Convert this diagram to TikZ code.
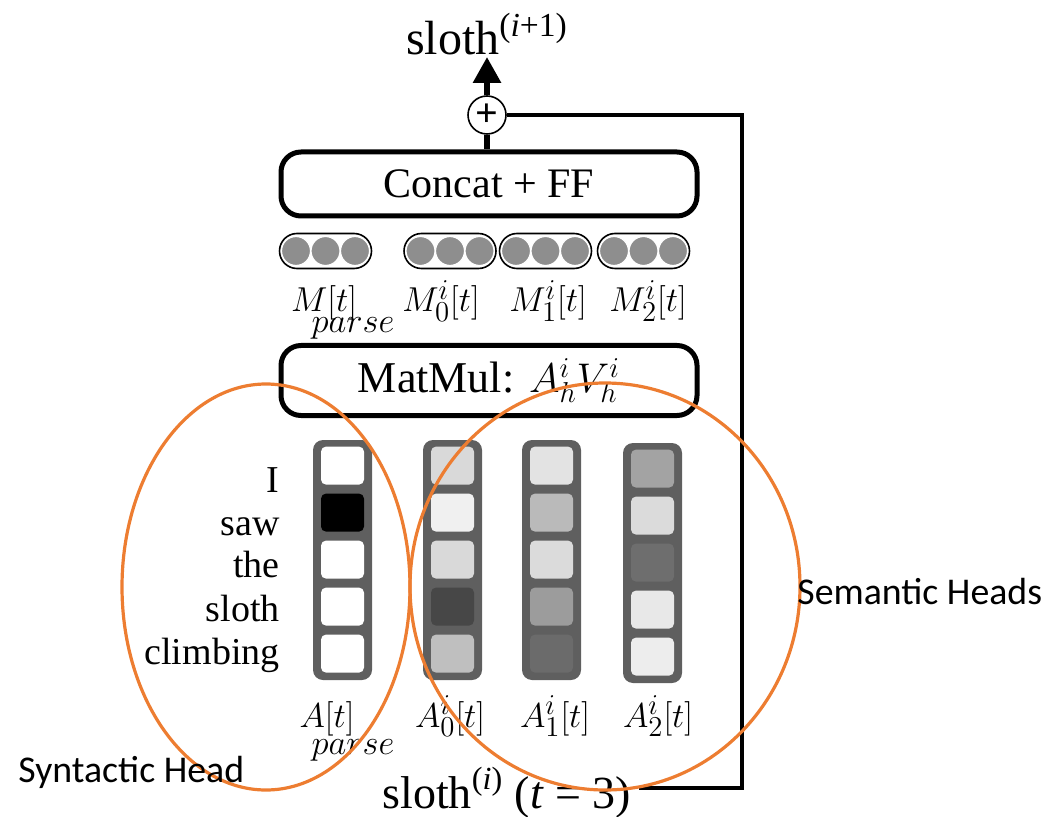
\documentclass[tikz,border=0pt]{standalone}
\usepackage[no-math]{fontspec}
\setmainfont{Liberation Serif}
\newfontfamily\calibfont{Carlito}
\usepackage{tikz}
\usetikzlibrary{positioning,arrows.meta,calc}
\definecolor{headorange}{HTML}{ED7D31}
\definecolor{colgray}{HTML}{5F5F5F}
\definecolor{dotgray}{HTML}{8E8E8E}

\tikzset{
  blockbox/.style={draw, line width=2.5pt, rounded corners=10pt, minimum width=208pt, inner sep=0pt},
  vecbox/.style={draw, line width=0.8pt, rounded corners=8.75pt, minimum width=46pt, minimum height=17.5pt, inner sep=0pt},
  attcol/.style={fill=colgray, rounded corners=5pt, minimum width=29.5pt, minimum height=120pt, inner sep=0pt},
  word/.style={anchor=base east, inner sep=0pt, font=\fontsize{19}{19}\selectfont},
  lbl/.style={anchor=base, inner sep=0pt, font=\fontsize{19}{19}\selectfont},
  sublbl/.style={anchor=base, inner sep=0pt, font=\fontsize{17.5}{18}\selectfont},
  headarea/.style={draw=headorange, line width=1.6pt},
  headlbl/.style={anchor=base west, inner sep=0pt, font=\calibfont\fontsize{18.9}{20}\selectfont},
}

\begin{document}
\begin{tikzpicture}[x=0.5pt, y=-0.5pt, >={Triangle[length=13pt,width=13.5pt]}]
    \useasboundingbox (0,0) rectangle (1047,817);

    % Output and residual sum
    \node[anchor=south, inner sep=1pt, font=\fontsize{24}{24}\selectfont] (out) at (487,57) {sloth\textsuperscript{(\textit{i}+1)}};
    \node[circle, draw, line width=0.8pt, minimum size=19pt, inner sep=0pt, font=\bfseries\fontsize{20}{20}\selectfont] (plus) at (487,115) {+};

    % Concat + FF
    \node[blockbox, minimum height=32pt, font=\fontsize{21}{21}\selectfont] (concat) at (489,184) {Concat + FF};
    \draw[line width=3pt] (plus) -- (plus |- concat.north);
    \draw[->, line width=3pt] (plus) -- (out);

    % Head outputs
    \node[vecbox] (mp) at (325.5,251) {};
    \node[vecbox] (m0) at (450,251) {};
    \node[vecbox] (m1) at (545.5,251) {};
    \node[vecbox] (m2) at (643.5,251) {};
    \foreach \m in {mp,m0,m1,m2}
        \foreach \dx in {-29.5,0,29.5}
            \filldraw[fill=dotgray, draw=white, line width=0.6pt] ($(\m)+(\dx,0)$) circle (14.5);

    \node[lbl] (mpl) at (324,312) {$M[t]$};
    \node[sublbl] (mps) at (353,333) {$parse$};
    \node[lbl] (m0l) at (441,312) {$M^i_0[t]$};
    \node[lbl] (m1l) at (548,312) {$M^i_1[t]$};
    \node[lbl] (m2l) at (648,312) {$M^i_2[t]$};

    % MatMul
    \node[blockbox, minimum height=35pt, font=\fontsize{22}{22}\selectfont] (matmul) at (489,380.5) {MatMul: $A^i_h V^i_h$};

    % Attention weights
    \node[attcol] (ap) at (342.5,560) {};
    \node[attcol] (a0) at (452.5,560) {};
    \node[attcol] (a1) at (551.5,560) {};
    \node[attcol] (a2) at (652.5,563) {};
    \foreach \col/\shades in {ap/{0,100,0,0,0}, a0/{15,6,15,72,25}, a1/{11,27,14,39,58}, a2/{36,14,57,9,7}}
        \foreach \v [count=\k] in \shades
            \fill[black!\v, rounded corners=2.5pt] ($(\col.north)+(-21.5,7+47*\k-47)$) rectangle ++(43,38);

    \node[word] (w1) at (280,492) {I};
    \node[word] (w2) at (280,535) {saw};
    \node[word] (w3) at (280,577) {the};
    \node[word] (w4) at (280,621) {sloth};
    \node[word] (w5) at (280,664) {climbing};

    \node[lbl] (apl) at (327,727) {$A[t]$};
    \node[sublbl] (aps) at (353,754) {$parse$};
    \node[lbl] (a0l) at (450,727) {$A^i_0[t]$};
    \node[lbl] (a1l) at (555,727) {$A^i_1[t]$};
    \node[lbl] (a2l) at (658,727) {$A^i_2[t]$};

    % Input and skip connection
    \node[anchor=base west, inner sep=0pt, font=\fontsize{23}{23}\selectfont] (inp) at (382,808) {sloth\textsuperscript{(\textit{i})} (\textit{t} = 3)};
    \coordinate (turn) at (742,788);
    \draw[line width=1.8pt] (plus) -| (turn) -- ($(turn -| inp.east)+(8,0)$);

    % Syntactic / semantic heads
    \draw[headarea] (266,587) ellipse [x radius=144, y radius=203];
    \draw[headarea] (605,586.5) ellipse [x radius=195, y radius=203.5];
    \node[headlbl] (syn) at (18,782) {Syntactic Head};
    \node[headlbl] (sem) at (797,604) {Semantic Heads};
\end{tikzpicture}
\end{document}
